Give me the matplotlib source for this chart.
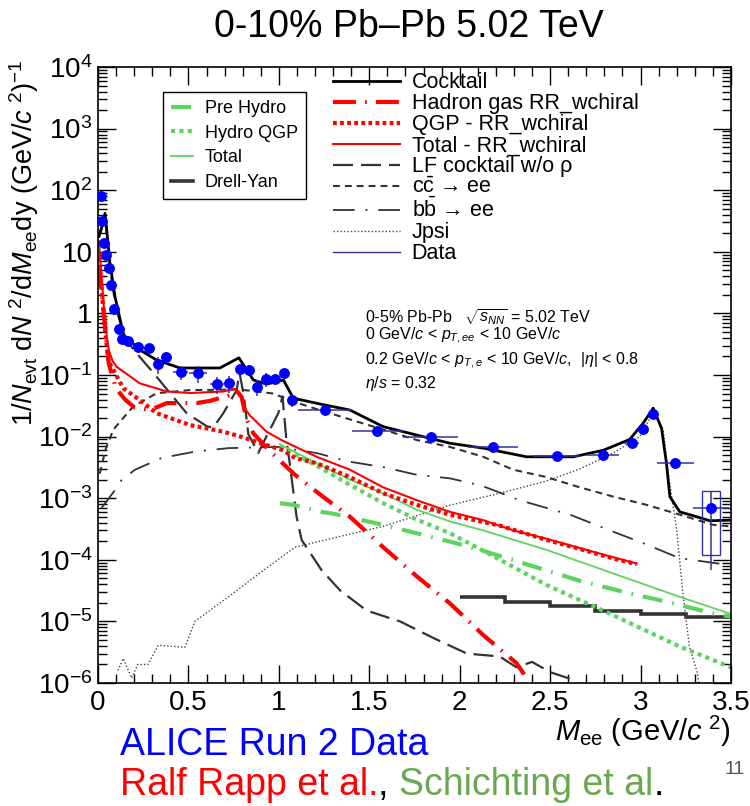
import numpy as np
import matplotlib
matplotlib.use('Agg')
import matplotlib.pyplot as plt
from matplotlib.lines import Line2D
from matplotlib.patches import Rectangle
from matplotlib.ticker import MultipleLocator, LogLocator, FuncFormatter, NullFormatter

plt.rcParams['font.family'] = ['Liberation Sans', 'DejaVu Sans']
plt.rcParams['mathtext.fontset'] = 'custom'
plt.rcParams['mathtext.rm'] = 'Liberation Sans'
plt.rcParams['mathtext.it'] = 'Liberation Sans:italic'
plt.rcParams['mathtext.bf'] = 'Liberation Sans:bold'

# ---------------- data ----------------
data_x = [0.017, 0.024, 0.033, 0.042, 0.059, 0.074, 0.090, 0.118, 0.134, 0.168, 0.223, 0.282,
          0.33, 0.376, 0.457, 0.555, 0.658, 0.726, 0.783, 0.833, 0.877, 0.927, 0.978, 1.03,
          1.073, 1.255, 1.544, 1.839, 2.185, 2.536, 2.79, 2.95, 3.015, 3.066, 3.193, 3.389]
data_y = [80, 32, 14, 8.9, 5.5, 2.9, 1.2, 0.56, 0.38, 0.36, 0.29, 0.27,
          0.149, 0.194, 0.111, 0.106, 0.071, 0.074, 0.125, 0.12, 0.065, 0.085, 0.085, 0.106,
          0.040, 0.027, 0.0125, 0.010, 0.0067, 0.0048, 0.0051, 0.008, 0.0133, 0.023, 0.0037, 6.9e-4]
data_xerr = [0.004, 0.004, 0.004, 0.005, 0.007, 0.008, 0.01, 0.01, 0.01, 0.02, 0.025, 0.03,
             0.02, 0.03, 0.04, 0.05, 0.04, 0.03, 0.02, 0.02, 0.02, 0.02, 0.02, 0.02,
             0.03, 0.15, 0.14, 0.15, 0.14, 0.13, 0.09, 0.04, 0.02, 0.02, 0.10, 0.10]
data_stat_rel = [0.02, 0.02, 0.03, 0.03, 0.03, 0.04, 0.05, 0.06, 0.08, 0.08, 0.1, 0.12,
                 0.3, 0.2, 0.25, 0.3, 0.3, 0.3, 0.2, 0.2, 0.3, 0.25, 0.2, 0.15,
                 0.25, 0.15, 0.15, 0.12, 0.12, 0.15, 0.15, 0.1, 0.08, 0.05, 0.2, 0.9]
sys_x = [3.389]
sys_lo = [1.2e-4]
sys_hi = [1.3e-3]
sys_halfwidth = [0.05]

cocktail_x = [0.005, 0.02, 0.039, 0.066, 0.094, 0.131, 0.14, 0.232, 0.324, 0.453, 0.674, 0.779,
              0.859, 0.932, 1.025, 1.08, 1.245, 1.393, 1.577, 1.762, 1.946, 2.13, 2.37, 2.628,
              2.794, 2.94, 3.015, 3.07, 3.116, 3.143, 3.162, 3.217, 3.31, 3.383, 3.49]
cocktail_y = [18, 25, 42, 6.5, 1.86, 0.61, 0.45, 0.255, 0.175, 0.13, 0.13, 0.19,
              0.083, 0.071, 0.083, 0.042, 0.033, 0.027, 0.0145, 0.0106, 0.0078, 0.0065, 0.0047, 0.0047,
              0.006, 0.009, 0.0166, 0.029, 0.0136, 0.0037, 0.00106, 6e-4, 5e-4, 4.3e-4, 4.4e-4]

hg_x = [0.005, 0.015, 0.03, 0.045, 0.06, 0.1, 0.15, 0.2, 0.287, 0.38, 0.545, 0.62, 0.73, 0.767,
        0.794, 0.822, 0.859, 0.941, 1.034, 1.089, 1.236, 1.393, 1.577, 1.762, 1.946, 2.13, 2.314, 2.37]
hg_y = [6, 3, 1.2, 0.4, 0.15, 0.06, 0.04, 0.03, 0.027, 0.035, 0.035, 0.038, 0.047, 0.055,
        0.044, 0.019, 0.0113, 0.0062, 0.0034, 0.0024, 0.0011, 5e-4, 1.6e-4, 5.4e-5, 1.96e-5, 6e-6, 2.1e-6, 1.2e-6]

qgp_x = [0.005, 0.02, 0.035, 0.057, 0.085, 0.14, 0.232, 0.324, 0.509, 0.693, 0.785, 0.905, 1.024,
         1.089, 1.209, 1.393, 1.577, 1.762, 1.946, 2.22, 2.48, 2.664, 2.849, 2.978]
qgp_y = [8, 2.5, 0.7, 0.17, 0.12, 0.061, 0.039, 0.024, 0.0154, 0.012, 0.0101, 0.0077, 0.006,
         0.0045, 0.0037, 0.0022, 0.0012, 7.8e-4, 5.4e-4, 3.6e-4, 2.1e-4, 1.5e-4, 1.05e-4, 8.5e-5]

rtot_x = [0.005, 0.015, 0.025, 0.035, 0.045, 0.06, 0.08, 0.103, 0.232, 0.38, 0.509, 0.693, 0.757,
          0.785, 0.803, 0.84, 0.932, 1.024, 1.209, 1.393, 1.577, 1.762, 1.946, 2.13, 2.296, 2.48,
          2.664, 2.849, 2.978]
rtot_y = [15, 6, 2.5, 1.0, 0.5, 0.25, 0.17, 0.136, 0.073, 0.054, 0.051, 0.054, 0.06,
          0.05, 0.031, 0.022, 0.012, 0.0085, 0.0047, 0.0029, 0.0015, 9.3e-4, 6e-4, 4.4e-4, 3e-4, 2.2e-4,
          1.55e-4, 1.1e-4, 8.7e-5]

lf_x = [0.005, 0.02, 0.04, 0.07, 0.1, 0.15, 0.2, 0.3, 0.38, 0.49, 0.6, 0.636, 0.693, 0.767, 0.782,
        0.807, 0.831, 0.886, 0.923, 0.997, 1.02, 1.04, 1.06, 1.098, 1.126, 1.236, 1.338, 1.485,
        1.67, 1.853, 2.04, 2.22, 2.314, 2.40, 2.5, 2.6, 2.7]
lf_y = [17, 24, 38, 4.5, 1.2, 0.4, 0.25, 0.114, 0.059, 0.024, 0.0148, 0.0139, 0.024, 0.057, 0.11,
        0.045, 0.011, 0.0054, 0.009, 0.024, 0.045, 0.01, 0.0037, 5e-4, 2.1e-4, 6.8e-5, 3.2e-5, 1.5e-5,
        1e-5, 5.4e-6, 3e-6, 2.7e-6, 1.8e-6, 2.2e-6, 1.5e-6, 1.2e-6, 8e-7]

cc_x = [0.01, 0.04, 0.085, 0.195, 0.324, 0.509, 0.785, 0.969, 1.08, 1.209, 1.393, 1.577, 1.762,
        1.946, 2.13, 2.296, 2.48, 2.664, 2.849, 3.033, 3.217, 3.40, 3.49]
cc_y = [0.0025, 0.006, 0.013, 0.031, 0.0505, 0.057, 0.058, 0.05, 0.037, 0.028, 0.019, 0.013, 0.0088,
        0.0068, 0.0047, 0.0029, 0.0022, 0.0015, 0.00106, 7.8e-4, 5.4e-4, 3.7e-4, 3.5e-4]

bb_x = [0.02, 0.094, 0.131, 0.205, 0.352, 0.536, 0.72, 0.905, 0.997, 1.209, 1.393, 1.577, 1.762,
        1.946, 2.12, 2.33, 2.61, 2.83, 3.015, 3.217, 3.43, 3.5]
bb_y = [7e-4, 0.00135, 0.002, 0.0029, 0.0045, 0.0057, 0.0065, 0.0067, 0.0068, 0.0054, 0.0039, 0.0032,
        0.0024, 0.0021, 0.0016, 9.3e-4, 5.4e-4, 3e-4, 1.86e-4, 1.06e-4, 8.7e-5, 8.5e-5]

jpsi_x = [0.11, 0.14, 0.186, 0.22, 0.276, 0.333, 0.48, 0.536, 0.72, 0.905, 1.089, 1.365, 1.577,
          1.946, 2.22, 2.48, 2.664, 2.849, 2.996, 3.07, 3.125, 3.15, 3.2, 3.236, 3.27, 3.31, 3.33]
jpsi_y = [1.6e-6, 2.5e-6, 1.2e-6, 2e-6, 2e-6, 4.1e-6, 3.8e-6, 1e-5, 2.5e-5, 6.4e-5, 1.6e-4, 2.5e-4,
          3.5e-4, 7.7e-4, 1.2e-3, 1.9e-3, 3e-3, 5.4e-3, 0.01, 0.025, 0.013, 0.0029, 3e-4, 2.5e-5,
          3.9e-6, 1.6e-6, 8e-7]

pre_x = [1.006, 1.08, 1.236, 1.30, 1.54, 1.762, 1.98, 2.112, 2.44, 2.66, 2.94, 3.14, 3.40, 3.5]
pre_y = [8.3e-4, 7.8e-4, 6e-4, 5.6e-4, 3.9e-4, 2.7e-4, 1.86e-4, 1.45e-4, 7.3e-5, 4.6e-5, 2.85e-5,
         2.1e-5, 1.35e-5, 1.2e-5]

hyd_x = [1.006, 1.1, 1.2, 1.37, 1.577, 1.762, 1.946, 2.112, 2.48, 2.849, 3.217, 3.5]
hyd_y = [0.0069, 0.005, 0.0035, 0.0018, 8.3e-4, 4.5e-4, 2.7e-4, 1.5e-4, 3.9e-5, 1.26e-5, 3.9e-6, 1.8e-6]

gtot_x = [1.006, 1.209, 1.393, 1.577, 1.762, 1.946, 2.13, 2.48, 2.849, 3.217, 3.49]
gtot_y = [0.0075, 0.0037, 0.002, 0.0012, 6.5e-4, 4.2e-4, 3e-4, 1.45e-4, 6e-5, 2.5e-5, 1.35e-5]

dy_edges = [2.0, 2.25, 2.5, 2.75, 3.0, 3.25, 3.5]
dy_vals = [2.47e-5, 2.1e-5, 1.78e-5, 1.48e-5, 1.3e-5, 1.17e-5]

title = '0-10% Pb\u2013Pb 5.02 TeV'

# ---------------- styles ----------------
RED = '#ff0000'
GREEN = '#5fd35f'
NAVY = '#33339a'
DGRAY = '#333333'

fig = plt.figure(figsize=(7.5, 8.06), dpi=100)
ax = fig.add_axes([98/750, 1-683/806, 633/750, 616/806])
ax.set_yscale('log')
ax.set_xlim(0, 3.5)
ax.set_ylim(1e-6, 1e4)

h_jpsi, = ax.plot(jpsi_x, jpsi_y, color='#444444', lw=1.0, ls=(0, (1, 1.5)))
h_bb, = ax.plot(bb_x, bb_y, color=DGRAY, lw=1.3, ls=(0, (12, 6, 1.1, 6)))
h_cc, = ax.plot(cc_x, cc_y, color=DGRAY, lw=1.5, ls=(0, (3.3, 2.4)))
h_lf, = ax.plot(lf_x, lf_y, color=DGRAY, lw=1.6, ls=(0, (9, 3.6)))
ax.stairs(dy_vals, dy_edges, color=DGRAY, lw=2.6, baseline=None)
h_dy = Line2D([], [], color=DGRAY, lw=2.6)
h_pre, = ax.plot(pre_x, pre_y, color=GREEN, lw=3, ls=(0, (4.8, 2.4, 0.4, 2.4)))
h_hyd, = ax.plot(hyd_x, hyd_y, color=GREEN, lw=3, ls=(0, (1.0, 1.0)))
h_gt, = ax.plot(gtot_x, gtot_y, color=GREEN, lw=1.3)
h_hg, = ax.plot(hg_x, hg_y, color=RED, lw=3, ls=(0, (5.5, 2.2, 0.4, 2.2)))
h_qgp, = ax.plot(qgp_x, qgp_y, color=RED, lw=3, ls=(0, (0.9, 0.8)))
h_rt, = ax.plot(rtot_x, rtot_y, color=RED, lw=1.5)
h_ck, = ax.plot(cocktail_x, cocktail_y, color='black', lw=2.0)

dx = np.array(data_x)
dyv = np.array(data_y)
yerr = dyv * np.array(data_stat_rel)
ax.errorbar(dx, dyv, xerr=data_xerr, yerr=yerr, fmt='o', ms=6.8, mfc='#0000ff', mec='#0000ff',
            ecolor=NAVY, elinewidth=1.1, capsize=0, zorder=10)
for sx, lo, hi, hw in zip(sys_x, sys_lo, sys_hi, sys_halfwidth):
    ax.add_patch(Rectangle((sx - hw, lo), 2 * hw, hi - lo, fill=False, edgecolor=NAVY, lw=1.0, zorder=9))
h_data = Line2D([], [], color=NAVY, lw=1.0)

# axes styling
ax.xaxis.set_major_locator(MultipleLocator(0.5))
ax.xaxis.set_minor_locator(MultipleLocator(0.1))
ax.xaxis.set_major_formatter(FuncFormatter(lambda v, p: '%g' % v))
ax.yaxis.set_major_locator(LogLocator(base=10, numticks=20))
ax.yaxis.set_minor_locator(LogLocator(base=10, subs=np.arange(2, 10), numticks=20))
ax.yaxis.set_minor_formatter(NullFormatter())


def ylab(v, pos):
    e = int(round(np.log10(v)))
    if e == 0:
        return '1'
    if e == 1:
        return '10'
    return r'$10^{%d}$' % e


ax.yaxis.set_major_formatter(FuncFormatter(ylab))
ax.tick_params(which='both', direction='in', top=True, right=True, width=1.0, labelsize=20)
ax.tick_params(which='major', length=13)
ax.tick_params(which='minor', length=6.5)
ax.tick_params(axis='x', pad=5)
ax.tick_params(axis='y', pad=4)
for s in ax.spines.values():
    s.set_linewidth(1.2)

ax.set_ylabel(r'$1/N_{\rm evt}\ {\rm d}N^{\ 2}/{\rm d}M_{\rm ee}{\rm dy}\ ({\rm GeV}/c^{\ 2})^{-1}$',
              fontsize=19.5, loc='top')
ax.yaxis.set_label_coords(-0.09, 1.012)
ax.set_xlabel(r'$M_{\rm ee}$ (GeV/$c^{\ 2}$)', fontsize=21, loc='right')
ax.xaxis.set_label_coords(1.0, -0.05)

# legends
leg1 = ax.legend([h_pre, h_hyd, h_gt, h_dy], ['Pre Hydro', 'Hydro QGP', 'Total', 'Drell-Yan'],
                 loc='upper left', bbox_to_anchor=((163-98)/633, 1-(92-67)/616), borderaxespad=0,
                 fontsize=13, handlelength=1.2, handletextpad=0.65, labelspacing=0.42, borderpad=0.45,
                 frameon=True, fancybox=False, edgecolor='black', framealpha=1)
leg1.get_frame().set_linewidth(1.0)
ax.add_artist(leg1)

leg2 = ax.legend([h_ck, h_hg, h_qgp, h_rt, h_lf, h_cc, h_bb, h_jpsi, h_data],
                 ['Cocktail', 'Hadron gas RR_wchiral', 'QGP - RR_wchiral', 'Total - RR_wchiral',
                  'LF cocktail w/o \u03c1', 'c$\\bar{\\rm c}$ \u2192 ee', 'b$\\bar{\\rm b}$ \u2192 ee',
                  'Jpsi', 'Data'],
                 loc='upper left', bbox_to_anchor=((333-98)/633, 0.9915), borderaxespad=0,
                 fontsize=15.5, handlelength=3.1, handletextpad=0.55, labelspacing=0.0,
                 borderpad=0, frameon=False)

# annotation
ann = ['0-5% Pb-Pb   $\\sqrt{s_{NN}}$ = 5.02 TeV',
       '0 GeV/$c$ < $p_{T,ee}$ < 10 GeV/$c$',
       '0.2 GeV/$c$ < $p_{T,e}$ < 10 GeV/$c$,  $|\\eta|$ < 0.8',
       '$\\eta/s$ = 0.32']
for txt, yy in zip(ann, [0.586, 0.557, 0.516, 0.479]):
    ax.text(0.4218, yy, txt, transform=ax.transAxes, fontsize=11.5, va='baseline', ha='left')

fig.text(0.545, 1-27/806, title, fontsize=27, ha='center', va='center')
fig.text(120/750, 1-755/806, 'ALICE Run 2 Data', color='#0000ff', fontsize=27, va='baseline')
t1 = fig.text(120/750, 1-795/806, 'Ralf Rapp et al.', color=RED, fontsize=27, va='baseline')
a1 = ax.annotate(', ', xy=(1, 0), xycoords=t1, fontsize=27, color='black', va='bottom', ha='left',
                 annotation_clip=False)
a2 = ax.annotate('Schichting et al', xy=(1, 0), xycoords=a1, fontsize=27, color='#6aa84f',
                 va='bottom', ha='left', annotation_clip=False)
a3 = ax.annotate('.', xy=(1, 0), xycoords=a2, fontsize=27, color='black', va='bottom', ha='left',
                 annotation_clip=False)
fig.text(745/750, 1-770/806, '11', color='#555555', fontsize=14, ha='right', va='center')

fig.savefig('out.png', dpi=100)
